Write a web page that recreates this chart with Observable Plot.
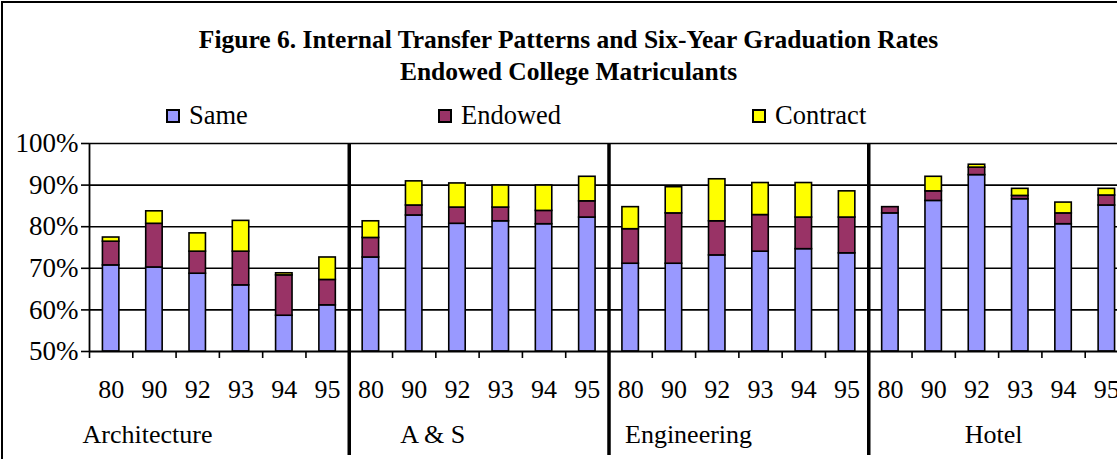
<!DOCTYPE html>
<html><head><meta charset="utf-8">
<script src="https://cdn.jsdelivr.net/npm/d3@7"></script>
<script src="https://cdn.jsdelivr.net/npm/@observablehq/plot@0.6"></script>
<style>
body{margin:0;background:#fff;overflow:hidden;width:1117px;height:459px;position:relative;font-family:"Liberation Serif","Times New Roman",serif;color:#000;}
#border{position:absolute;left:1px;top:1px;width:1300px;height:600px;border:2px solid #000;}
#title{position:absolute;left:0;top:24px;width:1137px;text-align:center;font-weight:bold;font-size:25.5px;line-height:32px;}
.item{position:absolute;top:100px;height:30px;line-height:30px;font-size:26.5px;white-space:nowrap;}
.sw{position:absolute;left:0;top:9px;width:10px;height:10px;border:2px solid #000;}
.lbl{position:absolute;left:23px;top:0;}
#chart{position:absolute;left:0;top:0;width:1140px;}
</style></head>
<body>
<div id="border"></div>
<div id="title">Figure 6. Internal Transfer Patterns and Six-Year Graduation Rates<br>Endowed College Matriculants</div>
<div id="legend"></div>
<div id="chart"></div>
<script>
// ---- data ----
const groups = ["Architecture", "A & S", "Engineering", "Hotel"];
const years = ["80", "90", "92", "93", "94", "95"];
const series = ["Same", "Endowed", "Contract"];
const colors = ["#9999FF", "#993366", "#FFFF00"];
const same = [70.7, 70.2, 68.7, 65.9, 58.6, 61.1,
              72.6, 82.7, 80.7, 81.3, 80.6, 82.2,
              71.1, 71.1, 73.1, 74.0, 74.6, 73.6,
              83.2, 86.2, 92.4, 86.6, 80.6, 85.1];
const endowed = [5.7, 10.5, 5.3, 8.1, 9.7, 6.1,
                 4.7, 2.4, 3.9, 3.3, 3.2, 3.9,
                 8.3, 12.1, 8.2, 8.8, 7.6, 8.6,
                 1.5, 2.3, 1.8, 0.8, 2.6, 2.4];
const contract = [1.0, 3.0, 4.4, 7.4, 0.5, 5.4,
                  4.0, 5.8, 5.8, 5.3, 6.1, 5.9,
                  5.3, 6.3, 10.1, 7.7, 8.3, 6.3,
                  0.0, 3.5, 0.7, 1.7, 2.6, 1.6];
const yTicks = [50, 60, 70, 80, 90, 100];

// ---- layout (styling only) ----
const legendLeft = [166, 438, 752];
const groupLabelDx = [-7, 51, 16, 96];
const barPad = 0.31;

// legend
const legend = document.getElementById("legend");
series.forEach((s, k) => {
  const it = document.createElement("div");
  it.className = "item";
  it.style.left = legendLeft[k] + "px";
  it.innerHTML = `<span class="sw" style="background:${colors[k]}"></span><span class="lbl">${s}</span>`;
  legend.appendChild(it);
});

// build rows
const cats = [];
groups.forEach((g, gi) => years.forEach((yr, yi) => cats.push({group: g, year: yr, i: gi * years.length + yi})));
const vals = [same, endowed, contract];
const rects = [];
cats.forEach(c => {
  let base = 0;
  vals.forEach((arr, k) => {
    const v = arr[c.i];
    if (v > 0) rects.push({i: c.i, s: series[k], y1: base, y2: base + v});
    base += v;
  });
});
const n = cats.length;
const ymin = yTicks[0], ymax = yTicks[yTicks.length - 1];

const marks = [
  Plot.ruleY(yTicks.slice(1), {stroke: "#000", strokeWidth: 1.6}),
  Plot.rect(rects, {x1: d => d.i + barPad, x2: d => d.i + 1 - barPad, y1: "y1", y2: "y2",
    fill: d => colors[series.indexOf(d.s)], stroke: "#000", strokeWidth: 1.6}),
  Plot.ruleY([ymin], {stroke: "#000", strokeWidth: 2}),
  Plot.ruleX([0], {y1: ymin, y2: ymax, stroke: "#000", strokeWidth: 1.8}),
  Plot.ruleX(d3.range(0, n + 1), {y1: ymin, y2: ymin, insetBottom: -7, stroke: "#000", strokeWidth: 1.6}),
  Plot.ruleX(d3.range(years.length, n + 1, years.length), {stroke: "#000", strokeWidth: 3.5}),
  Plot.axisY(yTicks, {tickSize: 8, tickPadding: 3, tickFormat: d => d + "%", label: null,
    strokeWidth: 1.6, fontSize: 27}),
  Plot.text(cats, {x: d => d.i + 0.5, y: ymin, text: "year", lineAnchor: "bottom", dy: 46, fontSize: 26}),
  ...groups.map((g, k) => Plot.text([g], {x: k * years.length, y: ymin, text: d => d,
    textAnchor: "start", lineAnchor: "bottom", dx: groupLabelDx[k], dy: 91, fontSize: 26}))
];

const chart = Plot.plot({
  width: 1140,
  height: 459,
  marginLeft: 89,
  marginRight: 12,
  marginTop: 144,
  marginBottom: 4,
  style: {fontFamily: "'Liberation Serif', 'Times New Roman', serif", fontSize: "26px", background: "transparent", maxWidth: "none", overflow: "visible"},
  x: {type: "linear", domain: [0, n], axis: null},
  y: {domain: [ymin, ymax], range: [351, 143], clamp: true, axis: null},
  marks
});
document.getElementById("chart").appendChild(chart);
</script>
</body></html>
